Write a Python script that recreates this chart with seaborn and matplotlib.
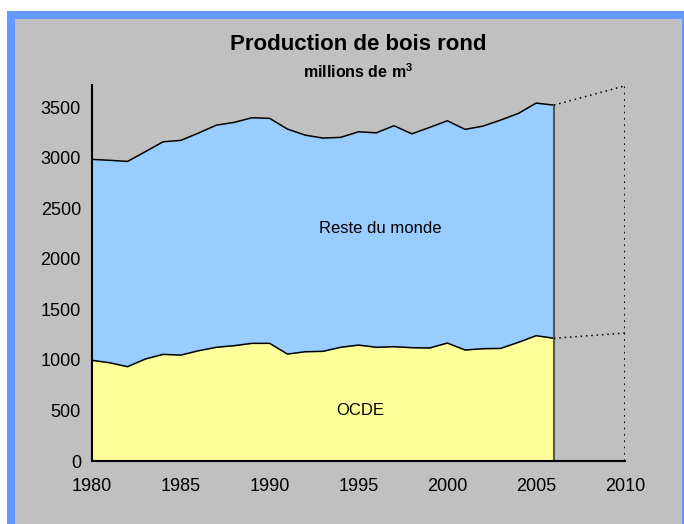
import numpy as np
import pandas as pd
import matplotlib.pyplot as plt
from matplotlib.patches import Rectangle
import seaborn as sns

# data (millions de m3)
years = list(range(1980, 2007))
ocde = [996, 972, 933, 1009, 1055, 1048, 1091, 1125, 1141, 1164, 1164, 1058, 1081, 1085,
        1125, 1147, 1125, 1131, 1121, 1118, 1167, 1098, 1111, 1114, 1174, 1240, 1214]
total = [2984, 2975, 2964, 3060, 3158, 3172, 3245, 3323, 3350, 3396, 3390, 3284, 3224, 3195,
         3202, 3257, 3247, 3317, 3237, 3300, 3366, 3281, 3313, 3373, 3439, 3541, 3521]
proj_years = [2006, 2010]
proj_ocde = [1214, 1266]
proj_total = [3521, 3712]

df = pd.DataFrame({"annee": years, "OCDE": ocde, "total": total})
proj = pd.DataFrame({"annee": proj_years, "OCDE": proj_ocde, "total": proj_total})

sns.set_style("white")
plt.rcParams['font.family'] = ['Liberation Sans', 'DejaVu Sans']
plt.rcParams['text.color'] = 'black'

W, H = 684, 524
fig = plt.figure(figsize=(W / 100, H / 100), dpi=100, facecolor='white')

# frame: blue border, grey panel
fig.patches.append(Rectangle((7 / W, 0), (W - 7) / W, (H - 11) / H, transform=fig.transFigure,
                             facecolor='#6699FF', edgecolor='none', zorder=-2))
fig.patches.append(Rectangle((15 / W, 0), (682 - 15) / W, (H - 19) / H, transform=fig.transFigure,
                             facecolor='#C0C0C0', edgecolor='none', zorder=-1))

ax = fig.add_axes([92 / W, (H - 461) / H, (625 - 92) / W, (461 - 85) / H])
ax.set_facecolor('none')

ax.fill_between(df["annee"], 0, df["OCDE"], color='#FFFF99', lw=0)
ax.fill_between(df["annee"], df["OCDE"], df["total"], color='#99CCFF', lw=0)
sns.lineplot(data=df, x="annee", y="OCDE", ax=ax, color='black', lw=1.1)
sns.lineplot(data=df, x="annee", y="total", ax=ax, color='black', lw=1.1)
ax.plot([2006, 2006], [0, total[-1]], color='#555555', lw=1.5)

dots = (0, (1, 2.5))
sns.lineplot(data=proj, x="annee", y="OCDE", ax=ax, color='black', lw=1.1, linestyle=dots)
sns.lineplot(data=proj, x="annee", y="total", ax=ax, color='black', lw=1.1, linestyle=dots)
ax.plot([2010, 2010], [0, proj_total[-1]], color='black', lw=1.3, linestyle=dots)

ax.set_xlim(1980, 2010)
ax.set_ylim(0, 3720)
ax.set_xticks(range(1980, 2011, 5))
ax.set_yticks(range(0, 3501, 500))
ax.set_xlabel("")
ax.set_ylabel("")
for s in ['top', 'right']:
    ax.spines[s].set_visible(False)
for s in ['left', 'bottom']:
    ax.spines[s].set_color('black')
    ax.spines[s].set_linewidth(1.5)
ax.tick_params(axis='both', direction='out', length=5, width=1.2, color='black',
               labelsize=13, labelcolor='black', pad=3)
ax.tick_params(axis='x', pad=7)

ax.text(1996.2, 2300, "Reste du monde", ha='center', va='center', fontsize=12, color='black')
ax.text(1995.1, 500, "OCDE", ha='center', va='center', fontsize=12, color='black')

fig.text(358 / W, 1 - 45 / H, "Production de bois rond", ha='center', va='center',
         fontsize=16, fontweight='bold', color='black')
fig.text(358 / W, 1 - 72 / H, "millions de m$\\mathregular{^3}$", ha='center', va='center',
         fontsize=11.5, fontweight='bold', color='black')

fig.savefig("out.png", dpi=100, facecolor=fig.get_facecolor())
